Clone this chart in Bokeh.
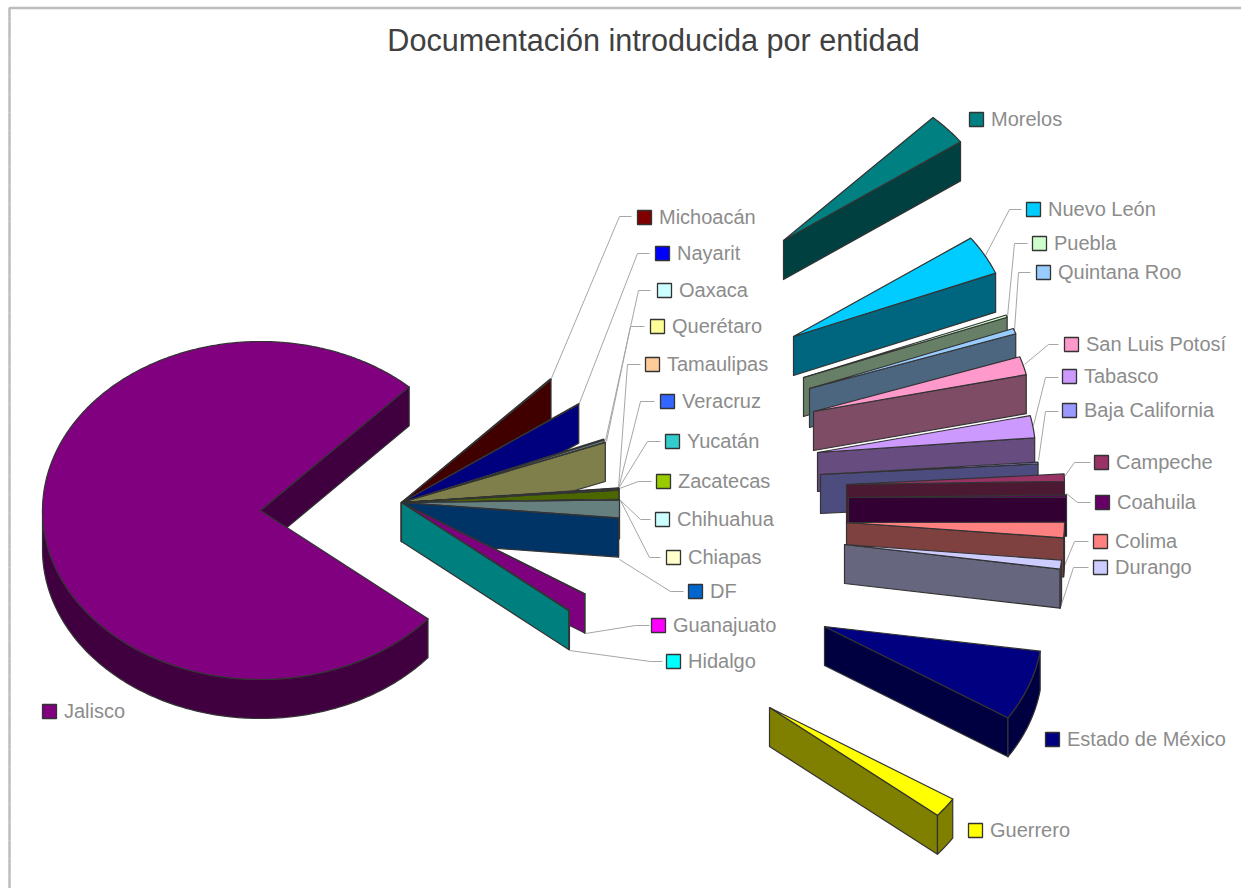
import numpy as np
from bokeh.plotting import figure
from bokeh.models import ColumnDataSource
from bokeh.core.properties import value
from bokeh.embed import file_html
from bokeh.resources import INLINE

TITLE = "Documentación introducida por entidad"

# Estimated values, clockwise in the order the pie draws them
states = ["Michoacán", "Morelos", "Nayarit", "Nuevo León", "Oaxaca", "Puebla", "Querétaro",
          "Quintana Roo", "San Luis Potosí", "Tabasco", "Tamaulipas", "Veracruz", "Yucatán",
          "Zacatecas", "Baja California", "Campeche", "Chiapas", "Chihuahua", "Coahuila",
          "Colima", "DF", "Durango", "Estado de México", "Guanajuato", "Guerrero", "Hidalgo",
          "Jalisco"]
values = [3, 110, 1, 136, 3, 8, 1, 19, 63, 76, 2, 2, 2, 2, 6, 25, 1, 1, 8, 53, 1, 31, 243, 1,
          68, 2, 2732]
colors = ["#800000", "#008080", "#0000FF", "#00CCFF", "#CCFFFF", "#CCFFCC", "#FFFF99",
          "#99CCFF", "#FF99CC", "#CC99FF", "#FFCC99", "#3366FF", "#33CCCC", "#99CC00",
          "#9999FF", "#993366", "#FFFFCC", "#CCFFFF", "#660066", "#FF8080", "#0066CC",
          "#CCCCFF", "#000080", "#FF00FF", "#FFFF00", "#00FFFF", "#800080"]

# Layout: where each exploded slice's tip lands (page pixels)
HUB = (401, 502)
tips = {"Morelos": (783, 240), "Nuevo León": (793, 336), "Puebla": (803, 377),
        "Quintana Roo": (809, 388), "San Luis Potosí": (813, 411), "Tabasco": (817, 452),
        "Baja California": (820, 474), "Campeche": (846, 484), "Coahuila": (848, 497),
        "Colima": (846, 522), "Durango": (844, 544), "Estado de México": (824, 626),
        "Guerrero": (769, 707), "Jalisco": (260, 510)}
START_ANGLE, RX, RY, DEPTH = 47.0, 218.0, 169.0, 39.0

# Layout: legend swatch centre and leader polyline per label
labels = {
    "Morelos": (976, 119, None), "Michoacán": (644, 217, [(550, 380), (619, 216), (631, 216)]),
    "Nayarit": (662, 253, [(578, 405), (637, 253), (649, 253)]),
    "Oaxaca": (664, 290, [(605, 440), (638, 290), (650, 290)]),
    "Querétaro": (657, 326, [(606, 441), (630, 326), (644, 326)]),
    "Tamaulipas": (652, 364, [(618, 488), (627, 364), (640, 364)]),
    "Veracruz": (667, 401, [(618, 488), (640, 401), (654, 401)]),
    "Yucatán": (672, 441, [(618, 488), (647, 441), (660, 441)]),
    "Zacatecas": (663, 481, [(619, 488), (638, 481), (651, 481)]),
    "Chihuahua": (662, 519, [(620, 500), (640, 519), (650, 519)]),
    "Chiapas": (673, 557, [(620, 500), (649, 557), (660, 557)]),
    "DF": (695, 591, [(619, 559), (670, 591), (683, 591)]),
    "Guanajuato": (658, 625, [(585, 633), (635, 625), (649, 625)]),
    "Hidalgo": (673, 661, [(569, 650), (650, 661), (662, 661)]),
    "Nuevo León": (1033, 209, [(985, 255), (1009, 209), (1021, 209)]),
    "Puebla": (1039, 243, [(1007, 316), (1014, 243), (1027, 243)]),
    "Quintana Roo": (1043, 272, [(1014, 330), (1018, 272), (1030, 272)]),
    "San Luis Potosí": (1071, 344, [(1024, 364), (1048, 344), (1058, 344)]),
    "Tabasco": (1069, 376, [(1033, 425), (1045, 377), (1058, 377)]),
    "Baja California": (1069, 410, [(1038, 460), (1045, 411), (1058, 411)]),
    "Campeche": (1101, 462, [(1064, 476), (1074, 462), (1090, 462)]),
    "Coahuila": (1102, 502, [(1066, 493), (1077, 502), (1090, 502)]),
    "Colima": (1100, 541, [(1062, 570), (1074, 541), (1088, 541)]),
    "Durango": (1100, 567, [(1060, 607), (1073, 567), (1088, 567)]),
    "Estado de México": (1052, 739, None), "Guerrero": (975, 830, None), "Jalisco": (49, 711, None),
}


def darker(c):
    r, g, b = (int(c[i:i + 2], 16) // 2 for i in (1, 3, 5))
    return f"#{r:02x}{g:02x}{b:02x}"


def pt(cx, cy, deg):
    a = np.radians(deg)
    return cx + RX * np.cos(a), cy - RY * np.sin(a)


p = figure(width=1241, height=888, x_range=(0, 1241), y_range=(888, 0), min_border=0,
           toolbar_location=None, output_backend="svg", background_fill_color="white")
p.axis.visible = False
p.grid.visible = False
p.outline_line_color = None

# Frame and its faint ruler marks
p.line([9, 9, 1241], [888, 7.5, 7.5], line_color="#BDBDBD", line_width=2.5)
marks = np.arange(21.0, 888.0, 18.2)
p.segment(np.full(marks.size, 7.5), marks, np.full(marks.size, 10.0), marks,
          line_color="#D0D0D0", line_width=1)

# Leaders
lead_x, lead_y = [], []
for n, (sx, sy, pts) in labels.items():
    if pts:
        lead_x.append([q[0] for q in pts])
        lead_y.append([q[1] for q in pts])
p.multi_line(lead_x, lead_y, line_color="#A6A6A6", line_width=1)

# Slices
xs, ys, fills = [], [], []
total = sum(values)
cursor = START_ANGLE
for n, v, c in zip(states, values, colors):
    hi, lo = cursor, cursor - v / total * 360.0
    cursor = lo
    cx, cy = tips.get(n, HUB)
    if lo < -180.0:             # the big slice wraps round the back of the pie
        hi, lo = hi + 360.0, lo + 360.0
    wall = darker(c)
    # wall on the clockwise cut face
    ex, ey = pt(cx, cy, lo)
    xs.append([cx, ex, ex, cx]); ys.append([cy, ey, ey + DEPTH, cy + DEPTH]); fills.append(wall)
    # wall on the part of the rim that faces the viewer
    if hi > 180.0:
        rim = np.append(np.arange(180.0, hi, 1.0), hi)
    else:
        rim = np.linspace(lo, min(hi, 0.0), 40) if lo < 0 else []
    if len(rim):
        rx, ry = pt(cx, cy, np.asarray(rim))
        xs.append(list(rx) + list(rx[::-1]))
        ys.append(list(ry) + list((ry + DEPTH)[::-1]))
        fills.append(wall)
    # top face
    arc = np.linspace(hi, lo, max(int(hi - lo) * 2, 3))
    ax, ay = pt(cx, cy, arc)
    xs.append([cx] + list(ax)); ys.append([cy] + list(ay)); fills.append(c)
p.patches(xs, ys, fill_color=fills, line_color="#333333", line_width=1.2, line_join="round")

# Legend swatches and labels
names = list(labels)
sw = ColumnDataSource(dict(
    x=[labels[n][0] for n in names], y=[labels[n][1] for n in names],
    c=[colors[states.index(n)] for n in names], t=names,
    tx=[labels[n][0] + 14.5 for n in names], ty=[labels[n][1] - 0.5 for n in names]))
p.rect("x", "y", width=14, height=14, fill_color="c", line_color="#333333", line_width=1.3, source=sw)
p.text("tx", "ty", text="t", text_font=value("Liberation Sans"), text_font_size="20px",
       text_color="#8C8C8C", text_baseline="middle", text_align="left", source=sw)

# Title
p.text([653], [39], text=[TITLE], text_font=value("Liberation Sans"), text_font_size="30.6px",
       text_color="#404040", text_baseline="middle", text_align="center")

open("out.html", "w").write(file_html(p, INLINE))
